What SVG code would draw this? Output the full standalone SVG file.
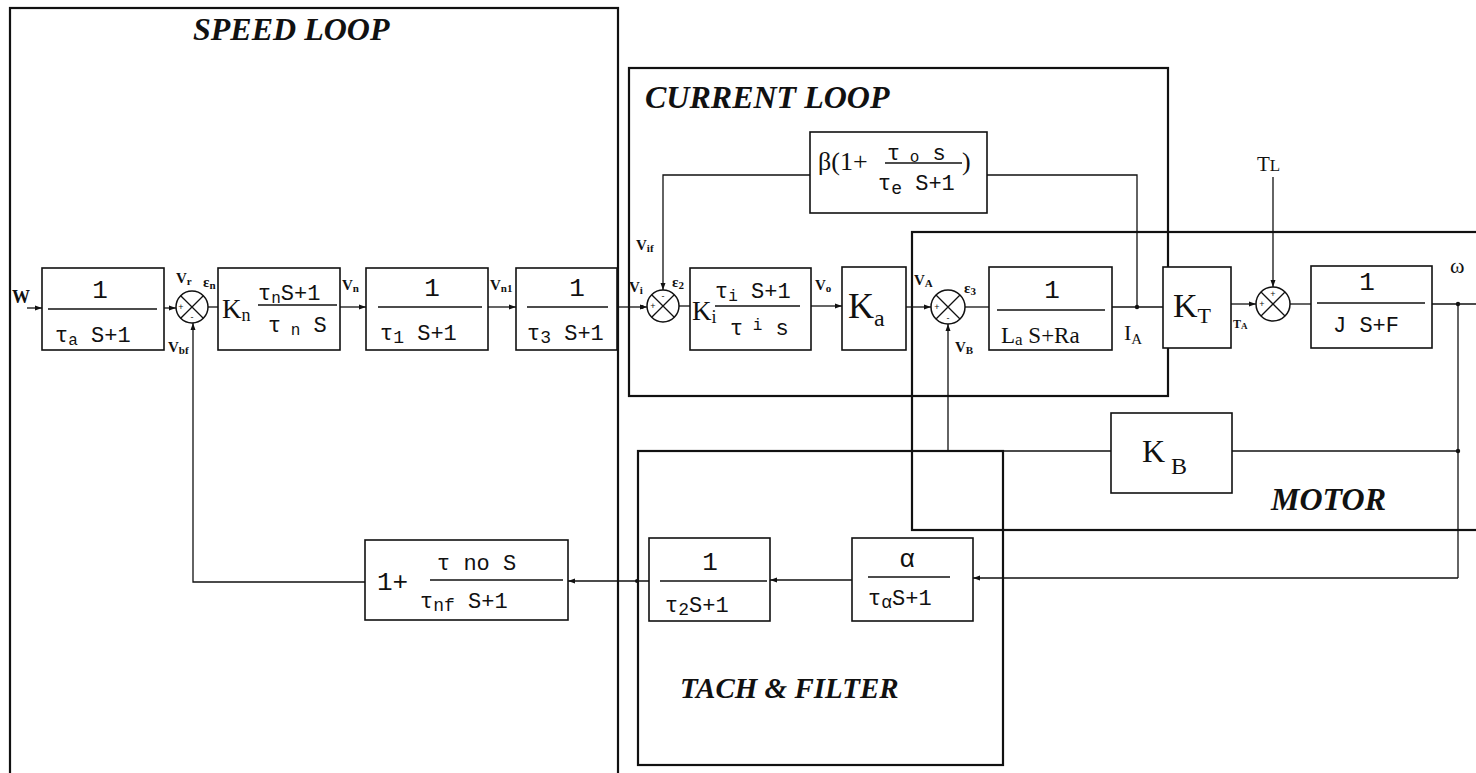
<svg xmlns="http://www.w3.org/2000/svg" width="1476" height="773" viewBox="0 0 1476 773">
<defs>
<marker id="ar" markerWidth="8" markerHeight="8" refX="7" refY="4" orient="auto" markerUnits="userSpaceOnUse">
<path d="M0,1.5 L7,4 L0,6.5 Z" fill="#111"/>
</marker>
<style>
.blk{fill:#fff;stroke:#111;stroke-width:1.6}
.loop{fill:none;stroke:#111;stroke-width:2.2}
.ln{fill:none;stroke:#111;stroke-width:1.3}
.bar{stroke:#111;stroke-width:1.4}
.sum{fill:#fff;stroke:#111;stroke-width:1.5}
.m{font-family:"Liberation Mono","DejaVu Sans Mono",monospace;font-size:22px;fill:#111}
.n1{font-family:"Liberation Mono","DejaVu Sans Mono",monospace;font-size:26px;fill:#111}
.big{font-family:"Liberation Serif","DejaVu Serif",serif;fill:#111}
.lab{font-family:"Liberation Serif","DejaVu Serif",serif;font-size:15px;font-weight:bold;fill:#111}
.sg{font-family:"Liberation Sans",sans-serif;font-size:9px;fill:#111}
.ttl{font-family:"Liberation Serif","DejaVu Serif",serif;font-size:32px;font-weight:bold;font-style:italic;fill:#111}
</style>
</defs>
<rect width="1476" height="773" fill="#fff"/>

<g id="loops">
<rect class="loop" x="10" y="8" width="608" height="800"/>
<rect class="loop" x="629" y="68" width="539" height="328"/>
<rect class="loop" x="912" y="232" width="600" height="298"/>
<rect class="loop" x="638" y="451" width="365" height="314"/>
<text class="ttl" x="193" y="40">SPEED LOOP</text>
<text class="ttl" x="645" y="108">CURRENT LOOP</text>
<text class="ttl" x="1271" y="510">MOTOR</text>
<text class="ttl" x="680" y="698" style="font-size:29px">TACH &amp; FILTER</text>
</g>

<g id="connectors">
<path class="ln" d="M27,308 H42" marker-end="url(#ar)"/>
<path class="ln" d="M164,308 H176" marker-end="url(#ar)"/>
<path class="ln" d="M208,307 H218"/>
<path class="ln" d="M340,307 H366" marker-end="url(#ar)"/>
<path class="ln" d="M488,307 H516" marker-end="url(#ar)"/>
<path class="ln" d="M617,307 H647" marker-end="url(#ar)"/>
<path class="ln" d="M810,175 H663 V290" marker-end="url(#ar)"/>
<path class="ln" d="M679,306 H690"/>
<path class="ln" d="M811,306 H842" marker-end="url(#ar)"/>
<path class="ln" d="M906,307 H931" marker-end="url(#ar)"/>
<path class="ln" d="M965,307 H989"/>
<path class="ln" d="M1112,307 H1163"/>
<path class="ln" d="M1137,307 V175 H987"/>
<path class="ln" d="M1231,304 H1256" marker-end="url(#ar)"/>
<path class="ln" d="M1273,177 V287" marker-end="url(#ar)"/>
<path class="ln" d="M1290,304 H1311"/>
<path class="ln" d="M1432,304 H1476"/>
<path class="ln" d="M1458,304 V578"/>
<path class="ln" d="M1458,451 H1232"/>
<path class="ln" d="M1111,451 H948 V324" marker-end="url(#ar)"/>
<path class="ln" d="M1458,578 H973" marker-end="url(#ar)"/>
<path class="ln" d="M852,580 H770" marker-end="url(#ar)"/>
<path class="ln" d="M649,581 H568" marker-end="url(#ar)"/>
<path class="ln" d="M365,582 H193 V323" marker-end="url(#ar)"/>
<circle cx="1458" cy="304" r="2.2" fill="#111"/>
<circle cx="1458" cy="451" r="2.2" fill="#111"/>
<circle cx="1137" cy="307" r="2.2" fill="#111"/>
<circle cx="642" cy="307" r="2" fill="#111"/>
<circle cx="637" cy="581" r="2" fill="#111"/>
</g>

<g id="signal-labels">
<text x="12" y="303" style="font-family:'Liberation Serif',serif;font-size:18px;font-weight:bold;fill:#111">W</text>
<text class="lab" x="176" y="283">V<tspan font-size="11" dy="2">r</tspan></text>
<text class="lab" x="203" y="287">ε<tspan font-size="11" dy="2">n</tspan></text>
<text class="lab" x="168" y="352">V<tspan font-size="11" dy="2">bf</tspan></text>
<text class="lab" x="342" y="290">V<tspan font-size="11" dy="2">n</tspan></text>
<text class="lab" x="490" y="290">V<tspan font-size="11" dy="2">n1</tspan></text>
<text class="lab" x="629" y="292">V<tspan font-size="11" dy="2">i</tspan></text>
<text class="lab" x="636" y="250">V<tspan font-size="11" dy="2">if</tspan></text>
<text class="lab" x="672" y="287">ε<tspan font-size="11" dy="2">2</tspan></text>
<text class="lab" x="815" y="290">V<tspan font-size="11" dy="2">o</tspan></text>
<text class="lab" x="914" y="285">V<tspan font-size="11" dy="2">A</tspan></text>
<text class="lab" x="964" y="293">ε<tspan font-size="11" dy="2">3</tspan></text>
<text class="lab" x="955" y="352">V<tspan font-size="11" dy="2">B</tspan></text>
<text x="1124" y="340" style="font-family:'Liberation Serif',serif;font-size:22px;fill:#111">I<tspan font-size="15" dy="4">A</tspan></text>
<text class="lab" x="1233" y="328" style="font-size:12px">T<tspan font-size="9" dy="1">A</tspan></text>
<text x="1257" y="171" style="font-family:'Liberation Serif',serif;font-size:21px;fill:#111">T<tspan font-size="17">L</tspan></text>
<text x="1450" y="273" style="font-family:'Liberation Serif',serif;font-size:22px;fill:#111">ω</text>
</g>

<g id="b1">
<rect class="blk" x="42" y="268" width="122" height="82"/>
<text class="n1" x="100" y="298" text-anchor="middle">1</text>
<line class="bar" x1="48" y1="309" x2="157" y2="309"/>
<text class="m" x="55" y="342">τ<tspan font-size="16" dy="3">a</tspan><tspan dy="-3"> S+1</tspan></text>
</g>

<g id="sum1">
<circle class="sum" cx="192" cy="307" r="16"/>
<path class="ln" d="M180.7,295.7 L203.3,318.3 M203.3,295.7 L180.7,318.3"/>
<text class="sg" x="181" y="310" text-anchor="middle">+</text>
<text class="sg" x="192" y="320" text-anchor="middle">-</text>
</g>

<g id="kn">
<rect class="blk" x="218" y="268" width="122" height="82"/>
<text class="big" x="222" y="318" style="font-size:27px">K<tspan font-size="18" dy="3">n</tspan></text>
<text class="m" x="258" y="300">τ<tspan font-size="16" dy="3">n</tspan><tspan dy="-3">S+1</tspan></text>
<line class="bar" x1="258" y1="305" x2="337" y2="305"/>
<text class="m" x="268" y="332">τ<tspan font-size="16" dy="3"> n</tspan><tspan dy="-3"> S</tspan></text>
</g>

<g id="t1">
<rect class="blk" x="366" y="268" width="122" height="82"/>
<text class="n1" x="432" y="296" text-anchor="middle">1</text>
<line class="bar" x1="378" y1="307" x2="482" y2="307"/>
<text class="m" x="380" y="340">τ<tspan font-size="18" dy="3">1</tspan><tspan dy="-3"> S+1</tspan></text>
</g>

<g id="t3">
<rect class="blk" x="516" y="268" width="101" height="82"/>
<text class="n1" x="577" y="296" text-anchor="middle">1</text>
<line class="bar" x1="527" y1="307" x2="608" y2="307"/>
<text class="m" x="527" y="340">τ<tspan font-size="18" dy="3">3</tspan><tspan dy="-3"> S+1</tspan></text>
</g>

<g id="sum2">
<circle class="sum" cx="663" cy="306" r="16"/>
<path class="ln" d="M651.7,294.7 L674.3,317.3 M674.3,294.7 L651.7,317.3"/>
<text class="sg" x="653" y="309" text-anchor="middle">+</text>
<text class="sg" x="663" y="299" text-anchor="middle">-</text>
</g>

<g id="beta">
<rect class="blk" x="810" y="132" width="177" height="81"/>
<text class="big" x="818" y="170" style="font-size:26px">β(1+</text>
<text class="m" x="887" y="160">τ<tspan font-size="16" dy="2"> o</tspan><tspan dy="-2"> s</tspan></text>
<line class="bar" x1="885" y1="163" x2="962" y2="163"/>
<text class="big" x="962" y="170" style="font-size:26px">)</text>
<text class="m" x="878" y="190">τ<tspan font-size="18" dy="4">e</tspan><tspan dy="-4"> S+1</tspan></text>
</g>

<g id="ki">
<rect class="blk" x="690" y="268" width="121" height="82"/>
<text class="big" x="692" y="320" style="font-size:27px">K<tspan font-size="18" dy="3">i</tspan></text>
<text class="m" x="715" y="298">τ<tspan font-size="16" dy="3">i</tspan><tspan dy="-3"> S+1</tspan></text>
<line class="bar" x1="715" y1="306" x2="800" y2="306"/>
<text class="m" x="730" y="335">τ<tspan font-size="16" dy="-5"> i</tspan><tspan dy="5"> s</tspan></text>
</g>

<g id="ka">
<rect class="blk" x="842" y="267" width="64" height="83"/>
<text class="big" x="848" y="318" style="font-size:36px">K<tspan font-size="24" dy="8">a</tspan></text>
</g>

<g id="sumA">
<circle class="sum" cx="948" cy="307" r="17"/>
<path class="ln" d="M936,295 L960,319 M960,295 L936,319"/>
<text class="sg" x="937" y="310" text-anchor="middle">+</text>
<text class="sg" x="948" y="321" text-anchor="middle">-</text>
</g>

<g id="la">
<rect class="blk" x="989" y="267" width="123" height="83"/>
<text class="n1" x="1052" y="298" text-anchor="middle">1</text>
<line class="bar" x1="997" y1="310" x2="1105" y2="310"/>
<text class="big" x="1001" y="343" style="font-size:23px">L<tspan font-size="17" dy="2">a</tspan><tspan dy="-2"> S+Ra</tspan></text>
</g>

<g id="kt">
<rect class="blk" x="1163" y="267" width="68" height="81"/>
<text class="big" x="1173" y="317" style="font-size:34px">K<tspan font-size="22" dy="6">T</tspan></text>
</g>

<g id="sum3">
<circle class="sum" cx="1273" cy="304" r="17"/>
<path class="ln" d="M1261,292 L1285,316 M1285,292 L1261,316"/>
<text class="sg" x="1262" y="307" text-anchor="middle">+</text>
<text class="sg" x="1273" y="297" text-anchor="middle">+</text>
</g>

<g id="jf">
<rect class="blk" x="1311" y="266" width="121" height="82"/>
<text class="n1" x="1367" y="290" text-anchor="middle">1</text>
<line class="bar" x1="1317" y1="303" x2="1425" y2="303"/>
<text class="m" x="1366" y="332" text-anchor="middle">J S+F</text>
</g>

<g id="kb">
<rect class="blk" x="1111" y="413" width="121" height="80"/>
<text class="big" x="1142" y="462" style="font-size:32px">K<tspan font-size="24" dy="12" dx="6">B</tspan></text>
</g>

<g id="fnf">
<rect class="blk" x="365" y="540" width="203" height="80"/>
<text class="n1" x="377" y="590">1+</text>
<text class="m" x="437" y="570">τ no S</text>
<line class="bar" x1="430" y1="580" x2="563" y2="580"/>
<text class="m" x="420" y="608">τ<tspan font-size="18" dy="3">nf</tspan><tspan dy="-3"> S+1</tspan></text>
</g>

<g id="t2">
<rect class="blk" x="649" y="538" width="121" height="83"/>
<text class="n1" x="710" y="570" text-anchor="middle">1</text>
<line class="bar" x1="660" y1="581" x2="767" y2="581"/>
<text class="m" x="665" y="612">τ<tspan font-size="18" dy="3">2</tspan><tspan dy="-3">S+1</tspan></text>
</g>

<g id="alpha">
<rect class="blk" x="852" y="538" width="121" height="83"/>
<text class="n1" x="907" y="567" text-anchor="middle">α</text>
<line class="bar" x1="868" y1="577" x2="950" y2="577"/>
<text class="m" x="868" y="605">τ<tspan font-size="18" dy="3">α</tspan><tspan dy="-3">S+1</tspan></text>
</g>
</svg>
